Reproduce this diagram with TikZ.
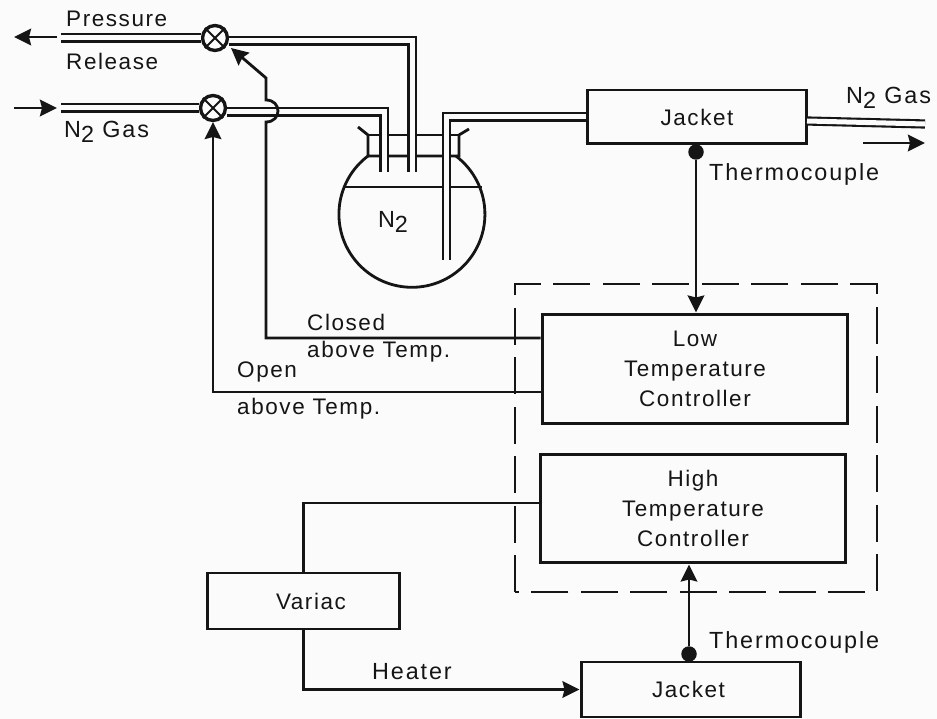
\documentclass[tikz,border=0pt]{standalone}
\usepackage{fontspec}
\setmainfont[LetterSpace=7]{Liberation Sans}
\newfontfamily\widefont[LetterSpace=8]{Liberation Sans}
\usetikzlibrary{arrows.meta, positioning, calc}
\definecolor{paper}{HTML}{FBFBFB}
\definecolor{ink}{HTML}{151515}
\newcommand{\Ntwo}{N\raisebox{-.4ex}{2}}

\begin{document}
\begin{tikzpicture}[
    x=0.02cm, y=-0.02cm,
    every node/.style={font=\fontsize{12.8}{17}\selectfont, text=ink},
    wide/.style={font=\fontsize{13.3}{17}\widefont},
    box/.style={draw=ink, line width=1.7pt, align=center, inner sep=0pt},
    valve/.style={draw=ink, line width=1.9pt, circle, fill=paper, inner sep=0pt, minimum size=0.5cm},
    pipe/.style={draw=ink, line width=1.2pt, double=paper, double distance=0.1cm},
    wall/.style={draw=ink, line width=1.6pt},
    conn/.style={draw=ink, line width=1.6pt},
    arr/.style={conn, -{Stealth[length=3.4mm, width=3.3mm, inset=0.4mm]}},
    dot/.style={circle, fill=ink, inner sep=0pt, minimum size=0.31cm}
]
    \useasboundingbox[fill=paper] (0,0) rectangle (937,719);

    \node[box, minimum width=4.4cm,  minimum height=1.08cm] (jackettop) at (697, 117) {Jacket};
    \node[box, minimum width=4.4cm,  minimum height=1.1cm]  (jacketbot) at (691, 689.5) {\hspace*{-0.1cm}Jacket};
    \node[box, minimum width=3.86cm, minimum height=1.12cm] (variac)    at (303.5, 601) {\hspace*{0.3cm}Variac};
    \node[box, minimum width=6.12cm, minimum height=2.2cm]  (low)       at (695, 369) {Low\\Temperature\\Controller};
    \node[box, minimum width=6.12cm, minimum height=2.18cm] (high)      at (693, 508.5) {High\\Temperature\\Controller};
    \node[valve] (vtop) at (215, 38) {};
    \node[valve] (vbot) at (213, 108) {};
    \node[dot] (dottop) at (696, 152) {};
    \node[dot] (dotbot) at (689, 654) {};

    \coordinate (relend) at (61, 38);
    \coordinate (gasend) at (61, 108);
    \coordinate (outbeg) at (807, 121);
    \coordinate (outend) at (925, 124);
    \coordinate (tubea)  at (384, 172);
    \coordinate (tubeb)  at (412, 172);
    \coordinate (tubec)  at (446.5, 260);
    \coordinate (closedin) at (low.west |- 0, 338);
    \coordinate (openin)   at (low.west |- 0, 392);
    \coordinate (highin)   at (high.west |- 0, 503);
    \coordinate (hopa)   at (266, 122);
    \coordinate (hopb)   at (266, 100);
    \coordinate (bend)   at (266, 78);
    \coordinate (tiptop) at (231, 48);
    \coordinate (tipbot) at (213, 122);

    % flask
    \draw[wall] (368, 156) arc[start angle=233, end angle=-53, radius=73];
    \draw[wall] (343, 187) -- (482, 187);
    \draw[wall] (358, 127) -- (368, 135) -- (368, 156) -- (459, 156) -- (459, 135) -- (469, 129);
    \draw[wall] (368, 135) -- (459, 135);
    \node[wide] (flask) at (393, 222) {\Ntwo};

    \draw[pipe] (vtop.west) -- (relend);
    \draw[pipe] (vbot.west) -- (gasend);
    \draw[pipe] (vtop.east) ++(0, 3) -| (tubeb);
    \draw[pipe] (vbot.east) ++(0, 4) -| (tubea);
    \draw[pipe] (jackettop.west) -| (tubec);
    \draw[pipe] (outbeg) -- (outend);

    \foreach \v in {vtop, vbot} {
        \draw[conn, line width=1.2pt] (\v.45) -- (\v.225);
        \draw[conn, line width=1.2pt] (\v.135) -- (\v.315);
    }

    \coordinate (arrowa) at (57, 37);
    \coordinate (arrowb) at (14, 37);
    \coordinate (arrowc) at (14, 108);
    \coordinate (arrowd) at (57, 108);
    \coordinate (arrowe) at (863, 143);
    \coordinate (arrowf) at (925, 143);
    \draw[arr] (arrowa) -- (arrowb);
    \draw[arr] (arrowc) -- (arrowd);
    \draw[arr] (arrowe) -- (arrowf);

    \draw[arr] (closedin) -| (hopa) .. controls (282, 122) and (282, 100) .. (hopb) -- (bend) -- (tiptop);
    \draw[arr] (openin) -| (tipbot);
    \draw[conn] (highin) -| (variac.north);
    \draw[arr] (variac.south) |- (jacketbot.west);
    \draw[arr] (dottop) -- (low.north -| dottop);
    \draw[arr] (dotbot) -- (high.south -| dotbot);

    \draw[conn, dash pattern=on 0.74cm off 0.25cm] (515, 592) rectangle (877, 284);

    \node[anchor=west] (pressure) at (60, 19)  {Pressure};
    \node[anchor=west] (release)  at (60, 61)  {Release};
    \node[anchor=west, wide] (gasleft)  at (58, 132) {\Ntwo{} Gas};
    \node[anchor=west, wide] (gasright) at (840, 98) {\Ntwo{} Gas};
    \node[anchor=west, wide] (thermotop) at (703, 174) {Thermocouple};
    \node[anchor=west, wide] (thermobot) at (703, 642) {Thermocouple};
    \node[anchor=west] (closed)  at (301, 322) {Closed};
    \node[anchor=west] (aboveb)  at (301, 352) {above Temp.};
    \node[anchor=west] (open)    at (231, 372) {Open};
    \node[anchor=west] (abovea)  at (231, 409) {above Temp.};
    \node[anchor=west, wide] (heater)  at (366, 672) {Heater};
\end{tikzpicture}
\end{document}
